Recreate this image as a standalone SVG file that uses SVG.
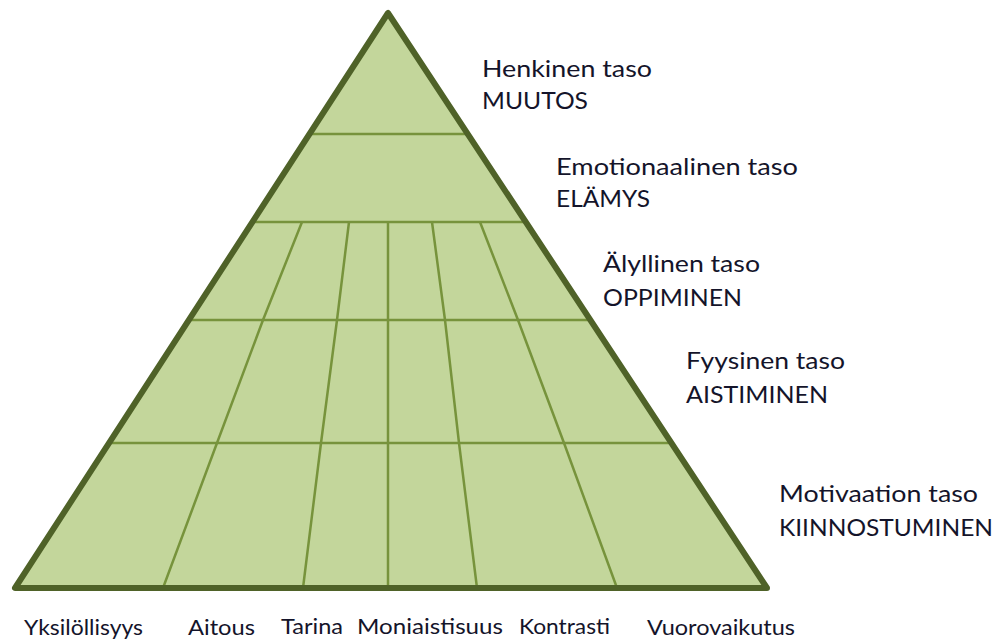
<svg xmlns="http://www.w3.org/2000/svg" width="1005" height="641" viewBox="0 0 1005 641">
<style>
.lbl{font-family:Lato,"Open Sans","Liberation Sans",sans-serif;font-size:23px;fill:#14142a}
.bot{font-size:22px}
.grid{stroke:#77933c;stroke-width:2.5;fill:none;stroke-linejoin:round}
.outline{stroke:#4f6228;stroke-width:6;fill:none;stroke-linejoin:round}
</style>
<rect width="1005" height="641" fill="#ffffff"/>
<g id="pyramid">
<polygon points="388,13 15,588 767,588" fill="#c3d69b"/>
</g>
<g id="connectors" class="grid">
<line x1="309" y1="134" x2="468" y2="134"/>
<line x1="252" y1="222" x2="526" y2="222"/>
<line x1="189" y1="320" x2="590" y2="320"/>
<line x1="109" y1="443" x2="671" y2="443"/>
<polyline points="302,222 263,320 217,443 163,588"/>
<polyline points="349,222 337,320 321,443 303,588"/>
<polyline points="388,222 388,320 388,443 388,588"/>
<polyline points="432,222 445,320 459,443 477,588"/>
<polyline points="480,222 518,320 564,443 617,588"/>
</g>
<g id="outline">
<polygon class="outline" points="388,13 15,588 767,588"/>
</g>
<g id="level-henkinen">
<text class="lbl" x="482" y="77" textLength="170" lengthAdjust="spacingAndGlyphs">Henkinen taso</text>
<text class="lbl" x="482" y="109" textLength="106" lengthAdjust="spacingAndGlyphs">MUUTOS</text>
</g>
<g id="level-emotionaalinen">
<text class="lbl" x="556" y="175" textLength="242" lengthAdjust="spacingAndGlyphs">Emotionaalinen taso</text>
<text class="lbl" x="556" y="207" textLength="94" lengthAdjust="spacingAndGlyphs">ELÄMYS</text>
</g>
<g id="level-alyllinen">
<text class="lbl" x="603" y="272" textLength="157" lengthAdjust="spacingAndGlyphs">Älyllinen taso</text>
<text class="lbl" x="603" y="306" textLength="139" lengthAdjust="spacingAndGlyphs">OPPIMINEN</text>
</g>
<g id="level-fyysinen">
<text class="lbl" x="686" y="369" textLength="159" lengthAdjust="spacingAndGlyphs">Fyysinen taso</text>
<text class="lbl" x="686" y="403" textLength="142" lengthAdjust="spacingAndGlyphs">AISTIMINEN</text>
</g>
<g id="level-motivaatio">
<text class="lbl" x="779" y="502" textLength="199" lengthAdjust="spacingAndGlyphs">Motivaation taso</text>
<text class="lbl" x="779" y="536" textLength="214" lengthAdjust="spacingAndGlyphs">KIINNOSTUMINEN</text>
</g>
<g id="col-yksilollisyys"><text class="lbl bot" x="24" y="635" textLength="119" lengthAdjust="spacingAndGlyphs">Yksilöllisyys</text></g>
<g id="col-aitous"><text class="lbl bot" x="188" y="635" textLength="67" lengthAdjust="spacingAndGlyphs">Aitous</text></g>
<g id="col-tarina"><text class="lbl bot" x="281" y="634" textLength="62" lengthAdjust="spacingAndGlyphs">Tarina</text></g>
<g id="col-moniaistisuus"><text class="lbl bot" x="357" y="634" textLength="146" lengthAdjust="spacingAndGlyphs">Moniaistisuus</text></g>
<g id="col-kontrasti"><text class="lbl bot" x="519" y="634" textLength="91" lengthAdjust="spacingAndGlyphs">Kontrasti</text></g>
<g id="col-vuorovaikutus"><text class="lbl bot" x="647" y="635" textLength="148" lengthAdjust="spacingAndGlyphs">Vuorovaikutus</text></g>
</svg>
